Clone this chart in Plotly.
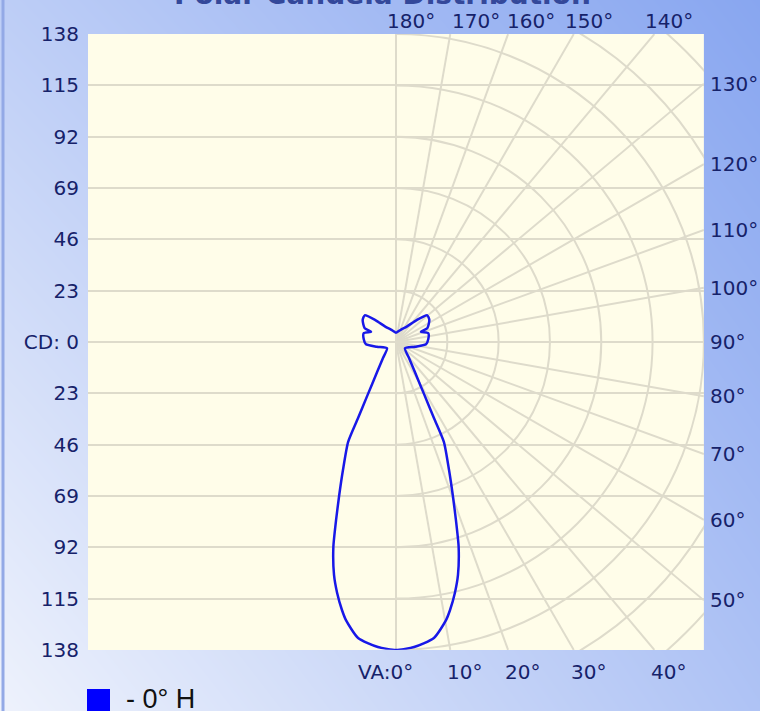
import numpy as np
import plotly.graph_objects as go

# ---------------- data ----------------
vertical_angles = [0, 3.4, 7.3, 10.2, 11.4, 13.2, 14.9, 17.0, 18.6, 20.2,
                   22.5, 25.6, 26.5, 28.2, 32.2, 39.4, 55.0, 76.1, 85.6, 94.8,
                   105.1, 112.4, 113.6, 123.5, 130.5, 136.7, 145.0, 157.9, 180]
candela = [138.0, 136.9, 133.7, 126.6, 122.5, 115.5, 108.0, 96.0, 84.2, 74.0,
           62.1, 49.7, 38.4, 27.0, 15.8, 9.1, 4.9, 8.8, 13.5, 14.5,
           15.0, 12.1, 15.3, 17.9, 18.4, 13.5, 8.4, 6.0, 4.2]
series_name = "- 0° H"
title_text = "Polar Candela Distribution"

cd_max = 138
cd_ticks = [-138, -115, -92, -69, -46, -23, 0, 23, 46, 69, 92, 115, 138]
cd_labels = ["138", "115", "92", "69", "46", "23", "CD: 0",
             "23", "46", "69", "92", "115", "138"]
grid_radii = [23, 46, 69, 92, 115, 138, 161, 184]
radial_angles = [10, 20, 30, 40, 50, 60, 70, 80, 90, 100, 110, 120, 130, 140, 150, 160, 170]
top_angles = [180, 170, 160, 150, 140]
top_labels = ["180°", "170°", "160°", "150°", "140°"]
right_angles = [130, 120, 110, 100, 90, 80, 70, 60, 50]
right_labels = ["130°", "120°", "110°", "100°", "90°", "80°", "70°", "60°", "50°"]
bottom_angles = [0, 10, 20, 30, 40]
bottom_labels = ["VA:0°", "10°", "20°", "30°", "40°"]

# background gradient levels (bottom row, top row) : left, right
bg_z = [[0.0, 0.62], [0.48, 1.0]]

# ---------------- styling ----------------
W, H = 760, 711
PX0, PX1 = 88, 704      # plot square, pixels
PY0, PY1 = 34, 650
dom_x = [PX0 / W, PX1 / W]
dom_y = [1 - PY1 / H, 1 - PY0 / H]
GRID = "#DEDBCB"
PLOT_BG = "#FFFDE9"
NAVY = "#16226A"
FONT = "DejaVu Sans"

theta_full = vertical_angles + [360 - a for a in reversed(vertical_angles[:-1])]
r_full = candela + list(reversed(candela[:-1]))

fig = go.Figure()
fig.add_trace(go.Heatmap(z=bg_z, x=[0, 1], y=[0, 1], zsmooth="best", showscale=False,
                         colorscale=[[0, "rgb(238,242,252)"], [1, "rgb(136,166,240)"]],
                         hoverinfo="skip", xaxis="x", yaxis="y"))
fig.add_trace(go.Scatter(x=[None], y=[None], xaxis="x2", yaxis="y2",
                         showlegend=False, hoverinfo="skip"))
fig.add_trace(go.Scatterpolar(r=r_full, theta=theta_full, mode="lines",
                              line=dict(color="rgb(24,24,232)", width=2.5,
                                        shape="spline", smoothing=0.6),
                              name=series_name, showlegend=False))

shapes = []
shapes.append(dict(type="rect", xref="x2", yref="y2", x0=-cd_max, x1=cd_max,
                   y0=-cd_max, y1=cd_max, fillcolor=PLOT_BG, line=dict(width=0),
                   layer="below"))
for R in grid_radii:
    shapes.append(dict(type="circle", xref="x2", yref="y2", x0=-R, x1=R, y0=-R, y1=R,
                       line=dict(color=GRID, width=2), layer="below"))
for a in radial_angles:
    s, c = np.sin(np.radians(a)), -np.cos(np.radians(a))
    m = max(abs(s), abs(c))
    shapes.append(dict(type="line", xref="x2", yref="y2", x0=0, y0=0,
                       x1=cd_max * s / m, y1=cd_max * c / m,
                       line=dict(color=GRID, width=2), layer="below"))
# left half carries only the horizontal grid
shapes.append(dict(type="rect", xref="x2", yref="y2", x0=-cd_max - 1, x1=0,
                   y0=-cd_max - 1, y1=cd_max + 1, fillcolor=PLOT_BG,
                   line=dict(width=0), layer="below"))
shapes.append(dict(type="line", xref="x2", yref="y2", x0=0, x1=0, y0=-cd_max, y1=cd_max,
                   line=dict(color=GRID, width=2), layer="below"))
# outer left border of the image
shapes.append(dict(type="line", xref="paper", yref="paper", x0=3 / W, x1=3 / W, y0=0, y1=1,
                   line=dict(color="#93A9E6", width=3), layer="above"))
# legend swatch
shapes.append(dict(type="rect", xref="paper", yref="paper", x0=87 / W, x1=110 / W,
                   y0=1 - 715 / H, y1=1 - 689 / H, fillcolor="#0000FF",
                   line=dict(width=0), layer="above"))

ann = []
lab_font = dict(family=FONT, size=20, color=NAVY)
top_shift = [-11, 0, -3, -11, -11]
for a, t, sh in zip(top_angles, top_labels, top_shift):
    ann.append(dict(text=t, xref="x2", yref="paper",
                    x=cd_max * np.tan(np.radians(180 - a)), y=1 - 21 / H,
                    xanchor="left", yanchor="middle", xshift=sh, showarrow=False,
                    font=lab_font))
for a, t in zip(right_angles, right_labels):
    ann.append(dict(text=t, xref="paper", yref="y2", x=708 / W,
                    y=-cd_max / np.tan(np.radians(a)) if a != 90 else 0,
                    xanchor="left", yanchor="middle", showarrow=False, font=lab_font))
for a, t in zip(bottom_angles, bottom_labels):
    if a == 0:
        ann.append(dict(text=t, xref="x2", yref="paper", x=0, y=1 - 672 / H,
                        xanchor="right", yanchor="middle", xshift=19, showarrow=False,
                        font=lab_font))
    else:
        ann.append(dict(text=t, xref="x2", yref="paper",
                        x=cd_max * np.tan(np.radians(a)), y=1 - 672 / H,
                        xanchor="left", yanchor="middle", xshift=-5, showarrow=False,
                        font=lab_font))
ann.append(dict(text=title_text, xref="paper", yref="paper", x=383 / W, y=1 - 13 / H,
                xanchor="center", yanchor="bottom", showarrow=False,
                font=dict(family=FONT, size=28, color="#34489A", weight="bold")))
ann.append(dict(text=series_name, xref="paper", yref="paper", x=124 / W, y=1 - 699 / H,
                xanchor="left", yanchor="middle", showarrow=False,
                font=dict(family="Liberation Sans", size=27, color="#111111")))

fig.update_layout(
    width=W, height=H, autosize=False,
    margin=dict(l=0, r=0, t=0, b=0, pad=0, autoexpand=False),
    paper_bgcolor="rgb(200,214,246)", plot_bgcolor="rgba(0,0,0,0)",
    showlegend=False,
    xaxis=dict(domain=[0, 1], range=[0, 1], visible=False, fixedrange=True,
               automargin=False),
    yaxis=dict(domain=[0, 1], range=[0, 1], visible=False, fixedrange=True,
               automargin=False),
    xaxis2=dict(domain=dom_x, range=[-cd_max - 0.05, cd_max + 0.05], anchor="y2",
                visible=False, fixedrange=True, automargin=False),
    yaxis2=dict(domain=dom_y, range=[-cd_max - 0.05, cd_max + 0.05], anchor="x2",
                tickvals=cd_ticks, ticktext=cd_labels, showgrid=True, gridcolor=GRID,
                gridwidth=2, zeroline=False, showline=False, ticks="outside",
                ticklen=4, tickcolor="rgba(0,0,0,0)", tickfont=lab_font,
                fixedrange=True, automargin=False),
    polar=dict(domain=dict(x=dom_x, y=dom_y), bgcolor="rgba(0,0,0,0)",
               radialaxis=dict(range=[0, cd_max], visible=False),
               angularaxis=dict(rotation=-90, direction="counterclockwise",
                                visible=False)),
    shapes=shapes, annotations=ann,
)
fig.write_html("out.html", config={"displayModeBar": False, "staticPlot": True},
               post_script="document.body.style.margin='0px';"
                           "document.body.style.overflow='hidden';")
